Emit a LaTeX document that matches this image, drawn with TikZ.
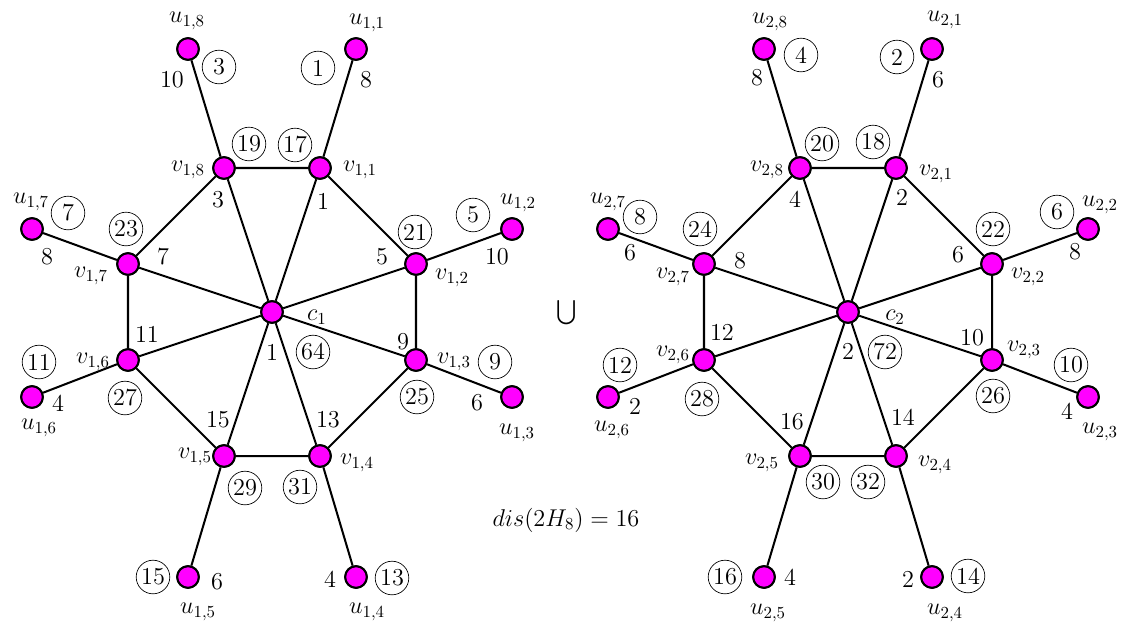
\documentclass[tikz,border=0pt]{standalone}
\usepackage{amsmath,amssymb}
\usepackage{tikz}
\definecolor{vfill}{RGB}{255,0,255}

\begin{document}
\begin{tikzpicture}[
            x=0.020833cm, y=-0.020833cm,
            font=\Large,
            vtx/.style={circle, draw=black, fill=vfill, line width=1.2pt,
                                        minimum size=0.45cm, inner sep=0pt},
            link/.style={line width=1.2pt},
            circled/.style={circle, draw=black, thin, minimum size=0.7cm, inner sep=0pt},
            txt/.style={inner sep=0pt}
        ]
        \useasboundingbox (0,0) rectangle (1134,627);

        % First copy: centre, cycle and pendants
        \node[vtx] (c1) at (272,312) {};
        \node[vtx] (v11) at (320,168) {};
        \node[vtx] (v12) at (416,264) {};
        \node[vtx] (v13) at (416,360) {};
        \node[vtx] (v14) at (320,456) {};
        \node[vtx] (v15) at (224,456) {};
        \node[vtx] (v16) at (128,360) {};
        \node[vtx] (v17) at (128,264) {};
        \node[vtx] (v18) at (224,168) {};
        \node[vtx] (u11) at (356,49) {};
        \node[vtx] (u12) at (512,229) {};
        \node[vtx] (u13) at (512,397) {};
        \node[vtx] (u14) at (356,577) {};
        \node[vtx] (u15) at (188,577) {};
        \node[vtx] (u16) at (32,397) {};
        \node[vtx] (u17) at (32,229) {};
        \node[vtx] (u18) at (188,49) {};

        % Second copy
        \node[vtx] (c2) at (848,312) {};
        \node[vtx] (v21) at (896,168) {};
        \node[vtx] (v22) at (992,264) {};
        \node[vtx] (v23) at (992,360) {};
        \node[vtx] (v24) at (896,456) {};
        \node[vtx] (v25) at (800,456) {};
        \node[vtx] (v26) at (704,360) {};
        \node[vtx] (v27) at (704,264) {};
        \node[vtx] (v28) at (800,168) {};
        \node[vtx] (u21) at (932,49) {};
        \node[vtx] (u22) at (1088,229) {};
        \node[vtx] (u23) at (1088,397) {};
        \node[vtx] (u24) at (932,577) {};
        \node[vtx] (u25) at (764,577) {};
        \node[vtx] (u26) at (608,397) {};
        \node[vtx] (u27) at (608,229) {};
        \node[vtx] (u28) at (764,49) {};

        % Edges
        \foreach \g in {1,2} {
            \foreach \i in {1,...,8}
                \draw[link] (c\g) -- (v\g\i) (v\g\i) -- (u\g\i);
            \draw[link] (v\g1) -- (v\g2) -- (v\g3) -- (v\g4) -- (v\g5) -- (v\g6) -- (v\g7) -- (v\g8) -- (v\g1);
        }
        % redraw vertices over the edges
        \foreach \g in {1,2} {
            \node[vtx] at (c\g) {};
            \foreach \i in {1,...,8} {
                \node[vtx] at (v\g\i) {};
                \node[vtx] at (u\g\i) {};
            }
        }

        % Labels, first copy
        \node[txt] (l-c1) at (317,317) {$c_1$};
        \node[txt] (l-v11) at (360,170) {$v_{1,1}$};
        \node[txt] (l-v12) at (452,278) {$v_{1,2}$};
        \node[txt] (l-v13) at (454,362) {$v_{1,3}$};
        \node[txt] (l-v14) at (357,463) {$v_{1,4}$};
        \node[txt] (l-v15) at (195,457) {$v_{1,5}$};
        \node[txt] (l-v16) at (93,362) {$v_{1,6}$};
        \node[txt] (l-v17) at (91,276) {$v_{1,7}$};
        \node[txt] (l-v18) at (188,170) {$v_{1,8}$};
        \node[txt] (l-u11) at (367,23) {$u_{1,1}$};
        \node[txt] (l-u12) at (518,203) {$u_{1,2}$};
        \node[txt] (l-u13) at (517,433) {$u_{1,3}$};
        \node[txt] (l-u14) at (367,612) {$u_{1,4}$};
        \node[txt] (l-u15) at (198,612) {$u_{1,5}$};
        \node[txt] (l-u16) at (39,428) {$u_{1,6}$};
        \node[txt] (l-u17) at (31,202) {$u_{1,7}$};
        \node[txt] (l-u18) at (187,21) {$u_{1,8}$};

        \node[txt] (w-c1) at (272,353) {$1$};
        \node[txt] (w-v11) at (323,202) {$1$};
        \node[txt] (w-v12) at (382,257) {$5$};
        \node[txt] (w-v13) at (403,342) {$9$};
        \node[txt] (w-v14) at (328,420) {$13$};
        \node[txt] (w-v15) at (218,420) {$15$};
        \node[txt] (w-v16) at (147,335) {$11$};
        \node[txt] (w-v17) at (163,257) {$7$};
        \node[txt] (w-v18) at (218,200) {$3$};
        \node[txt] (w-u11) at (366,80) {$8$};
        \node[txt] (w-u12) at (497,257) {$10$};
        \node[txt] (w-u13) at (477,403) {$6$};
        \node[txt] (w-u14) at (330,580) {$4$};
        \node[txt] (w-u15) at (217,582) {$6$};
        \node[txt] (w-u16) at (58,404) {$4$};
        \node[txt] (w-u17) at (47,257) {$8$};
        \node[txt] (w-u18) at (172,80) {$10$};

        \node[circled] (n-c1) at (313,352) {64};
        \node[circled] (n-v11) at (295,145) {17};
        \node[circled] (n-v12) at (415,232) {21};
        \node[circled] (n-v13) at (417,397) {25};
        \node[circled] (n-v14) at (300,487) {31};
        \node[circled] (n-v15) at (245,488) {29};
        \node[circled] (n-v16) at (125,398) {27};
        \node[circled] (n-v17) at (126,229) {23};
        \node[circled] (n-v18) at (249,144) {19};
        \node[circled] (n-u11) at (318,68) {1};
        \node[circled] (n-u12) at (473,215) {5};
        \node[circled] (n-u13) at (495,362) {9};
        \node[circled] (n-u14) at (392,578) {13};
        \node[circled] (n-u15) at (153,577) {15};
        \node[circled] (n-u16) at (39,362) {11};
        \node[circled] (n-u17) at (68,213) {7};
        \node[circled] (n-u18) at (219,67) {3};

        % Labels, second copy
        \node[txt] (l-c2) at (895,317) {$c_2$};
        \node[txt] (l-v21) at (936,174) {$v_{2,1}$};
        \node[txt] (l-v22) at (1028,277) {$v_{2,2}$};
        \node[txt] (l-v23) at (1024,350) {$v_{2,3}$};
        \node[txt] (l-v24) at (935,465) {$v_{2,4}$};
        \node[txt] (l-v25) at (762,463) {$v_{2,5}$};
        \node[txt] (l-v26) at (673,355) {$v_{2,6}$};
        \node[txt] (l-v27) at (673,277) {$v_{2,7}$};
        \node[txt] (l-v28) at (767,170) {$v_{2,8}$};
        \node[txt] (l-u21) at (945,20) {$u_{2,1}$};
        \node[txt] (l-u22) at (1100,205) {$u_{2,2}$};
        \node[txt] (l-u23) at (1100,432) {$u_{2,3}$};
        \node[txt] (l-u24) at (945,613) {$u_{2,4}$};
        \node[txt] (l-u25) at (768,613) {$u_{2,5}$};
        \node[txt] (l-u26) at (612,430) {$u_{2,6}$};
        \node[txt] (l-u27) at (608,202) {$u_{2,7}$};
        \node[txt] (l-u28) at (770,22) {$u_{2,8}$};

        \node[txt] (w-c2) at (848,352) {$2$};
        \node[txt] (w-v21) at (902,198) {$2$};
        \node[txt] (w-v22) at (958,255) {$6$};
        \node[txt] (w-v23) at (972,338) {$10$};
        \node[txt] (w-v24) at (903,418) {$14$};
        \node[txt] (w-v25) at (792,422) {$16$};
        \node[txt] (w-v26) at (722,333) {$12$};
        \node[txt] (w-v27) at (740,261) {$8$};
        \node[txt] (w-v28) at (795,200) {$4$};
        \node[txt] (w-u21) at (938,80) {$6$};
        \node[txt] (w-u22) at (1075,252) {$8$};
        \node[txt] (w-u23) at (1067,412) {$4$};
        \node[txt] (w-u24) at (908,580) {$2$};
        \node[txt] (w-u25) at (790,578) {$4$};
        \node[txt] (w-u26) at (635,407) {$2$};
        \node[txt] (w-u27) at (630,253) {$6$};
        \node[txt] (w-u28) at (757,78) {$8$};

        \node[circled] (n-c2) at (885,352) {72};
        \node[circled] (n-v21) at (873,142) {18};
        \node[circled] (n-v22) at (993,229) {22};
        \node[circled] (n-v23) at (993,396) {26};
        \node[circled] (n-v24) at (868,482) {32};
        \node[circled] (n-v25) at (823,482) {30};
        \node[circled] (n-v26) at (702,399) {28};
        \node[circled] (n-v27) at (700,229) {24};
        \node[circled] (n-v28) at (822,144) {20};
        \node[circled] (n-u21) at (897,57) {2};
        \node[circled] (n-u22) at (1057,212) {6};
        \node[circled] (n-u23) at (1071,365) {10};
        \node[circled] (n-u24) at (968,576) {14};
        \node[circled] (n-u25) at (725,577) {16};
        \node[circled] (n-u26) at (620,365) {12};
        \node[circled] (n-u27) at (640,217) {8};
        \node[circled] (n-u28) at (801,55) {4};

        % Union and result
        \node[txt] (union) at (567,313) {$\bigcup$};
        \node[txt] (result) at (566,520) {$dis(2H_8)=16$};

        \end{tikzpicture}
\end{document}
